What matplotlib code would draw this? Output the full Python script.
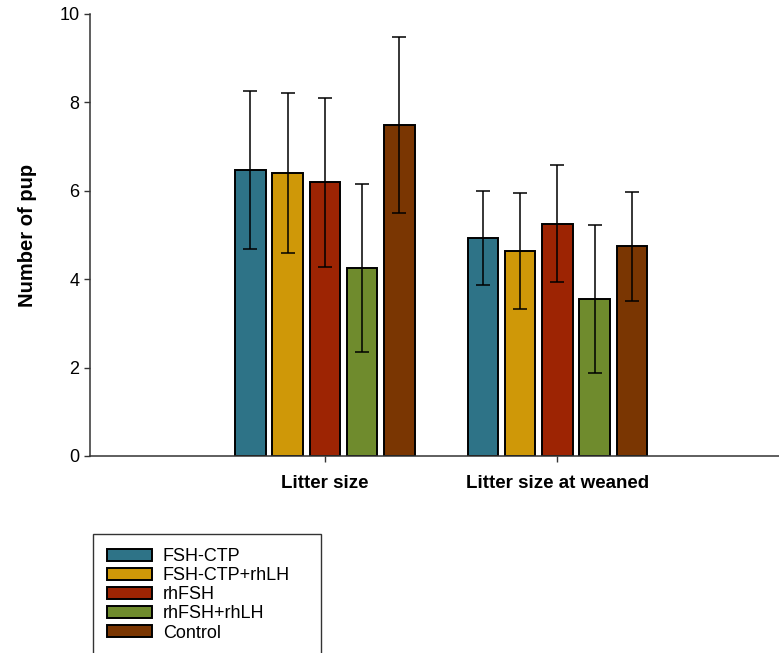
import numpy as np
import matplotlib
matplotlib.use("Agg")
import matplotlib.pyplot as plt
from matplotlib.patches import Rectangle

plt.rcParams['font.family'] = ['Liberation Sans', 'DejaVu Sans']

# Pup counts per treatment (mean and SD)
categories = ['Litter size', 'Litter size at weaned']
groups = ['FSH-CTP', 'FSH-CTP+rhLH', 'rhFSH', 'rhFSH+rhLH', 'Control']
means = {
    'FSH-CTP':      [6.47, 4.94],
    'FSH-CTP+rhLH': [6.40, 4.64],
    'rhFSH':        [6.19, 5.26],
    'rhFSH+rhLH':   [4.25, 3.55],
    'Control':      [7.49, 4.74],
}
errors = {
    'FSH-CTP':      [1.79, 1.06],
    'FSH-CTP+rhLH': [1.81, 1.31],
    'rhFSH':        [1.91, 1.32],
    'rhFSH+rhLH':   [1.90, 1.68],
    'Control':      [2.00, 1.24],
}
colors = ['#2E7387', '#CF9808', '#9D2403', '#6F8B2D', '#7A3602']

fig = plt.figure(figsize=(7.79, 6.53), dpi=100)
ax = fig.add_axes([90 / 779, 1 - 456 / 653, 1 - 90 / 779, (456 - 14) / 653])

x = np.arange(len(categories))
pitch = 0.16
width = 0.131
for i, (g, c) in enumerate(zip(groups, colors)):
    pos = x + (i - 2) * pitch
    ax.bar(pos, means[g], width, color=c, edgecolor='black', linewidth=1.4,
           label=g, zorder=2)
    ax.errorbar(pos, means[g], yerr=errors[g], fmt='none', ecolor='black',
                elinewidth=1.1, capsize=5, capthick=1.1, zorder=3)

ax.set_xlim(-1.01, 1.953)
ax.set_ylim(0, 10)
ax.set_yticks(np.arange(0, 11, 2))
ax.set_xticks(x)
ax.set_xticklabels(categories, fontweight='bold', fontsize=13.5)
ax.tick_params(axis='y', labelsize=13, length=4.5, width=1, color='#333333', pad=3)
ax.tick_params(axis='x', length=4.5, width=1, color='#333333', pad=9)
for side in ['top', 'right']:
    ax.spines[side].set_visible(False)
for side in ['left', 'bottom']:
    ax.spines[side].set_color('#333333')
    ax.spines[side].set_linewidth(1.1)
ax.set_ylabel('Number of pup', fontweight='bold', fontsize=14.5, labelpad=16)

# legend box, open past the bottom of the figure
fig.patches.append(Rectangle((93 / 779, -0.05), (321 - 93) / 779, (653 - 534) / 653 + 0.05,
                             transform=fig.transFigure, fill=False,
                             edgecolor='#333333', linewidth=1, clip_on=False))
handles, labels = ax.get_legend_handles_labels()
fig.legend(handles, labels, loc='upper left', bbox_to_anchor=(107 / 779, 1 - 548 / 653),
           frameon=False, fontsize=13, handlelength=2.5, handleheight=0.65,
           handletextpad=0.6, labelspacing=0.12, borderpad=0, borderaxespad=0)

fig.savefig('out.png', dpi=100)
